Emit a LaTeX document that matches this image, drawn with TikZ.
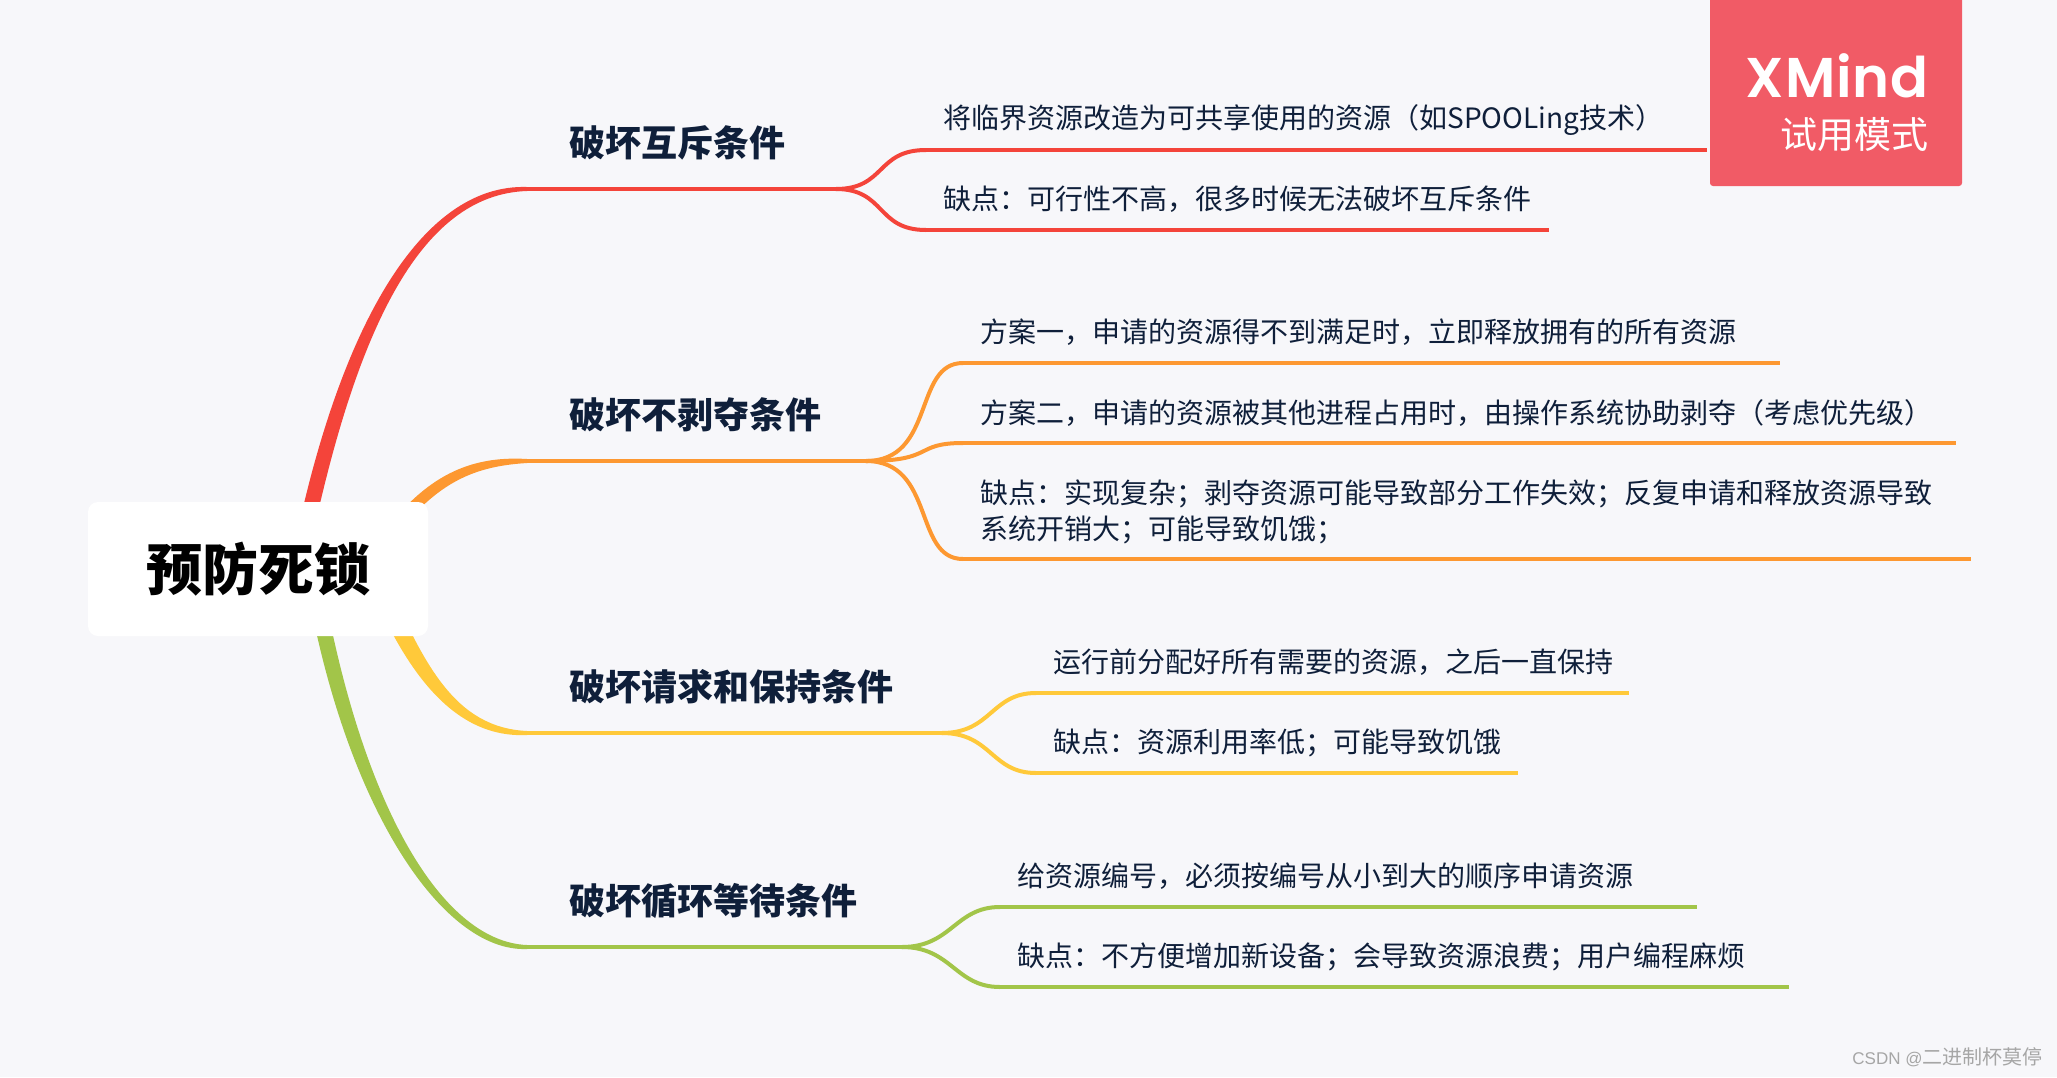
\documentclass[tikz,border=0pt]{standalone}
\usepackage{fontspec}
\setmainfont{Noto Sans CJK SC}
\newfontfamily\logofont[UprightFont=* SemiBold,LetterSpace=1.5]{Poppins}
\newfontfamily\markfont{Liberation Sans}
\usepackage{xcolor}
\usetikzlibrary{calc,backgrounds}
\definecolor{pagebg}{HTML}{F7F7FA}
\definecolor{inkblue}{HTML}{0F1F3A}
\definecolor{cred}{HTML}{F4443A}
\definecolor{corange}{HTML}{FD9831}
\definecolor{cyellow}{HTML}{FFC93A}
\definecolor{cgreen}{HTML}{A2C549}
\definecolor{logored}{HTML}{F15B66}
\tikzset{
  rootbox/.style={fill=white, rounded corners=5pt, minimum width=170pt, minimum height=67pt, inner sep=0pt, font=\fontsize{28}{32}\selectfont\bfseries},
  branch/.style={anchor=south west, text width=#1, align=left, inner xsep=21pt, inner ysep=0pt, minimum height=46pt, text=inkblue, font=\fontsize{18}{22}\selectfont\bfseries},
  leaf/.style={anchor=south west, text width=#1, align=left, inner xsep=8.5pt, inner ysep=0pt, minimum height=30pt, text=inkblue, font=\fontsize{14}{18}\selectfont},
  rule/.style={line width=2pt}
}
% tapered limb: colour, from, control, control, to, spread
\newcommand{\twig}[6]{
  \fill[#1] ($#2+(#6)$) .. controls ($#3+1.1*(#6)$) and ($#4+(0,-5.5)$) .. ($#5+(0,-2)$)
    -- ($#5+(0,2)$) .. controls ($#4+(0,5.5)$) and ($#3-1.1*(#6)$) .. ($#2-(#6)$) -- cycle;
}
\begin{document}
\begin{tikzpicture}[x=0.5pt, y=-0.5pt]
  \useasboundingbox (0,0) rectangle (2057,1077);
  \node[rootbox] (root) at (258,569) {\raisebox{1.2pt}{预防死锁}};
  % branches
  \node[branch=112pt] (b1) at (527,189) {破坏互斥条件};
  \node[branch=127pt] (b2) at (527,461) {破坏不剥夺条件};
  \node[branch=165pt] (b3) at (527,733) {破坏请求和保持条件};
  \node[branch=145pt] (b4) at (527,947) {破坏循环等待条件};
  % leaves
  \node[leaf=373pt] (l11) at (926,150) {将临界资源改造为可共享使用的资源（如SPOOLing技术）};
  \node[leaf=294pt] (l12) at (926,230) {缺点：可行性不高，很多时候无法破坏互斥条件};
  \node[leaf=391pt] (l21) at (963,363) {方案一，申请的资源得不到满足时，立即释放拥有的所有资源};
  \node[leaf=479pt] (l22) at (963,443) {方案二，申请的资源被其他进程占用时，由操作系统协助剥夺（考虑优先级）};
  \node[leaf=486.5pt, minimum height=47pt] (l23) at (963,559) {缺点：实现复杂；剥夺资源可能导致部分工作失效；反复申请和释放资源导致\\系统开销大；可能导致饥饿；};
  \node[leaf=279pt] (l31) at (1036,693) {运行前分配好所有需要的资源，之后一直保持};
  \node[leaf=223.5pt] (l32) at (1036,773) {缺点：资源利用率低；可能导致饥饿};
  \node[leaf=331pt] (l41) at (1000,907) {给资源编号，必须按编号从小到大的顺序申请资源};
  \node[leaf=377pt] (l42) at (1000,987) {缺点：不方便增加新设备；会导致资源浪费；用户编程麻烦};
  % limbs behind the root
  \coordinate (r1) at (298,568);
  \coordinate (r2) at (385,540);
  \coordinate (r3) at (375,575);
  \coordinate (r4) at (312,568);
  \begin{scope}[on background layer]
    \fill[pagebg] (0,0) rectangle (2057,1077);
    \twig{cred}{(r1)}{(345,330)}{(420,189)}{(b1.south west)}{-8,0}
    \twig{corange}{(r2)}{(430,480)}{(470,461)}{(b2.south west)}{-4,-4}
    \twig{cyellow}{(r3)}{(415,670)}{(455,733)}{(b3.south west)}{8,-4}
    \twig{cgreen}{(r4)}{(350,800)}{(440,947)}{(b4.south west)}{8,0}
  \end{scope}
  % red
  \draw[rule, cred] (b1.south west) -- (b1.south east);
  \draw[rule, cred] (b1.south east) .. controls +(50,0) and +(-50,0) .. (l11.south west);
  \draw[rule, cred] (b1.south east) .. controls +(50,0) and +(-50,0) .. (l12.south west);
  \draw[rule, cred] (l11.south west) -- (l11.south east);
  \draw[rule, cred] (l12.south west) -- (l12.south east);
  % orange
  \draw[rule, corange] (b2.south west) -- (b2.south east);
  \draw[rule, corange] (b2.south east) .. controls +(70,0) and +(-50,0) .. (l21.south west);
  \draw[rule, corange] (b2.south east) .. controls +(70,0) and +(-50,0) .. (l22.south west);
  \draw[rule, corange] (b2.south east) .. controls +(70,0) and +(-50,0) .. (l23.south west);
  \draw[rule, corange] (l21.south west) -- (l21.south east);
  \draw[rule, corange] (l22.south west) -- (l22.south east);
  \draw[rule, corange] (l23.south west) -- (l23.south east);
  % yellow
  \draw[rule, cyellow] (b3.south west) -- (b3.south east);
  \draw[rule, cyellow] (b3.south east) .. controls +(50,0) and +(-45,0) .. (l31.south west);
  \draw[rule, cyellow] (b3.south east) .. controls +(50,0) and +(-45,0) .. (l32.south west);
  \draw[rule, cyellow] (l31.south west) -- (l31.south east);
  \draw[rule, cyellow] (l32.south west) -- (l32.south east);
  % green
  \draw[rule, cgreen] (b4.south west) -- (b4.south east);
  \draw[rule, cgreen] (b4.south east) .. controls +(50,0) and +(-45,0) .. (l41.south west);
  \draw[rule, cgreen] (b4.south east) .. controls +(50,0) and +(-45,0) .. (l42.south west);
  \draw[rule, cgreen] (l41.south west) -- (l41.south east);
  \draw[rule, cgreen] (l42.south west) -- (l42.south east);
  % trial badge and watermark
  \node[fill=logored, rounded corners=1.5pt, minimum width=126pt, minimum height=98pt, inner sep=0pt] (badge) at (1836,88) {};
  \node[anchor=base east, inner sep=0pt, text=white, font=\logofont\fontsize{28}{32}\selectfont] (xm) at (1929,97) {XMind};
  \node[anchor=base east, inner sep=0pt, text=white, font=\fontsize{18.5}{22}\selectfont] (trial) at (1929,148) {试用模式};
  \node[anchor=east, inner sep=0pt, text=black!35, font=\fontsize{10}{12}\selectfont] (mark) at (2043,1057) {{\markfont\fontsize{8.5}{12}\selectfont CSDN @}二进制杯莫停};
\end{tikzpicture}
\end{document}
